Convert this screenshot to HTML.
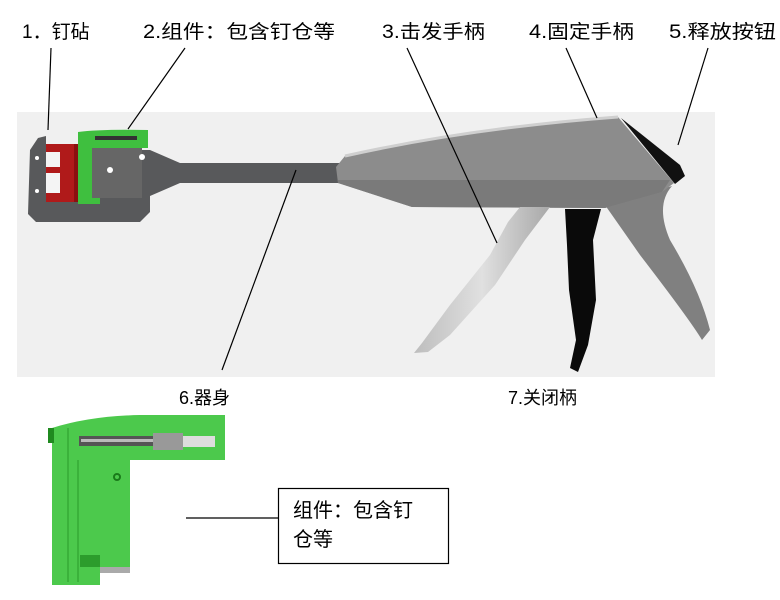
<!DOCTYPE html>
<html><head><meta charset="utf-8"><style>
html,body{margin:0;padding:0;background:#fff;}
svg{display:block;}
text{font-family:"Liberation Sans","Noto Sans CJK SC","WenQuanYi Zen Hei",sans-serif;fill:#000;}
</style></head><body>
<svg width="780" height="600" viewBox="0 0 780 600" xmlns="http://www.w3.org/2000/svg">
<defs>
<linearGradient id="fireg" x1="0" y1="0" x2="1" y2="0">
<stop offset="0" stop-color="#bdbdbd"/><stop offset="0.5" stop-color="#e0e0e0"/><stop offset="1" stop-color="#a8a8a8"/>
</linearGradient>
</defs>
<rect x="17" y="112" width="698" height="265" fill="#f0f0f0"/>

<!-- shaft & head plate -->
<path d="M30,150 L38,138 L46,136 L46,150 L150,150 L180,163 L345,163 L345,183 L180,183 L150,196 L150,212 L140,222 L36,222 L28,214 Z" fill="#58595b"/>
<rect x="46" y="144" width="34" height="58" fill="#b01a1a"/>
<rect x="46" y="152" width="14" height="15" fill="#f4f4f4"/>
<rect x="46" y="173" width="14" height="20" fill="#f4f4f4"/>
<rect x="74" y="144" width="6" height="58" fill="#8a1010"/>
<path d="M78,132 Q100,129 148,130 L148,148 L92,148 L92,198 L100,198 L100,204 L78,204 Z" fill="#3fbf3f"/>
<rect x="92" y="148" width="50" height="50" fill="#666"/>
<rect x="95" y="136" width="42" height="4" fill="#333"/>
<circle cx="110" cy="170" r="3" fill="#fff"/>
<circle cx="142" cy="157" r="3" fill="#fff"/>
<circle cx="37" cy="158" r="2" fill="#fff"/>
<circle cx="37" cy="191" r="2" fill="#fff"/>

<!-- fixed handle -->
<path d="M605,205 L672,186 Q655,205 670,240 Q700,290 710,330 L702,340 Q690,320 640,255 Z" fill="#808080"/>
<!-- body -->
<path d="M336,167 L345,156 Q470,128 618,117 L674,183 L662,192 L605,208 L412,207 L338,183 Z" fill="#8c8c8c"/>
<path d="M338,180 L670,180 L662,192 L605,208 L412,207 L338,183 Z" fill="#7a7a7a"/>
<path d="M345,156 Q470,128 618,117" fill="none" stroke="#cfcfcf" stroke-width="3"/>
<!-- release knob -->
<path d="M621,118 L680,165 L685,176 L675,184 Z" fill="#111"/>
<!-- firing handle -->
<path d="M520,207 L550,207 L525,240 L495,285 L450,335 L428,352 L414,353 L422,343 L450,305 L490,255 L508,222 Z" fill="url(#fireg)"/>
<!-- closing handle -->
<path d="M565,209 L601,209 L593,240 L596,300 L588,345 L578,372 L570,368 L576,340 L569,290 L567,245 Z" fill="#0a0a0a"/>

<g stroke="#000" stroke-width="1.2" fill="none">
<line x1="51" y1="48" x2="48" y2="130"/>
<line x1="185" y1="48" x2="128" y2="129"/>
<line x1="407" y1="48" x2="497" y2="243"/>
<line x1="566" y1="48" x2="597" y2="118"/>
<line x1="708" y1="48" x2="678" y2="145"/>
<line x1="296" y1="170" x2="222" y2="370"/>
</g>

<text x="22" y="38" font-size="19">1．钉砧</text>
<text x="143" y="38" font-size="19" textLength="192" lengthAdjust="spacingAndGlyphs">2.组件：包含钉仓等</text>
<text x="382" y="38" font-size="19" textLength="103" lengthAdjust="spacingAndGlyphs">3.击发手柄</text>
<text x="529" y="38" font-size="19" textLength="105" lengthAdjust="spacingAndGlyphs">4.固定手柄</text>
<text x="669" y="38" font-size="19" textLength="107" lengthAdjust="spacingAndGlyphs">5.释放按钮</text>
<text x="179" y="404" font-size="18">6.器身</text>
<text x="508" y="404" font-size="18">7.关闭柄</text>

<path d="M48,430 L52,428 Q90,416 140,415 L225,415 L225,460 L130,460 L130,567 L100,567 L100,585 L52,585 L52,432 Z" fill="#4cc94c"/>
<rect x="48" y="428" width="6" height="15" fill="#1f8a1f"/>
<line x1="68" y1="428" x2="68" y2="582" stroke="#2a9a2a" stroke-width="1"/>
<line x1="78" y1="460" x2="78" y2="582" stroke="#2a9a2a" stroke-width="1"/>
<rect x="79" y="436" width="75" height="10" fill="#555"/>
<rect x="81" y="439" width="72" height="3" fill="#bbb"/>
<rect x="153" y="433" width="30" height="17" fill="#999"/>
<rect x="183" y="436" width="32" height="11" fill="#ddd"/>
<rect x="80" y="555" width="20" height="12" fill="#2c9c2c"/>
<rect x="100" y="567" width="30" height="6" fill="#aaa"/>
<circle cx="117" cy="477" r="3" fill="none" stroke="#1a7a1a" stroke-width="2"/>

<line x1="186" y1="518" x2="278" y2="518" stroke="#000" stroke-width="1.2"/>
<rect x="278.5" y="488.5" width="170" height="75" fill="#fff" stroke="#000" stroke-width="1.2"/>
<text x="293" y="517" font-size="20">组件：包含钉</text>
<text x="293" y="546" font-size="20">仓等</text>
</svg>
</body></html>
